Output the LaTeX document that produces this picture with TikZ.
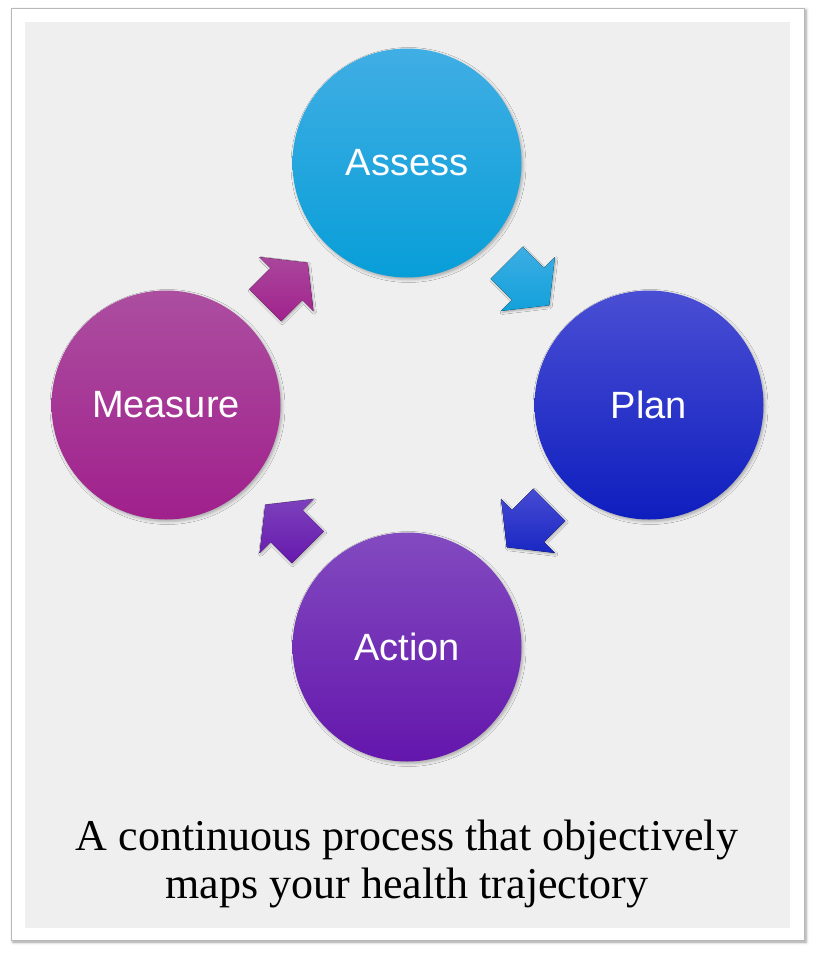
\documentclass[tikz,border=0pt]{standalone}
\usepackage{fontspec}
\setsansfont{Liberation Sans}
\newfontfamily\captionfont{Liberation Serif}
\usetikzlibrary{calc,shadows.blur}

\definecolor{assesstop}{RGB}{64,174,228}
\definecolor{assessbot}{RGB}{8,158,216}
\definecolor{plantop}{RGB}{74,78,212}
\definecolor{planbot}{RGB}{14,30,190}
\definecolor{actiontop}{RGB}{130,74,192}
\definecolor{actionbot}{RGB}{100,22,172}
\definecolor{measuretop}{RGB}{172,78,160}
\definecolor{measurebot}{RGB}{160,32,140}
\definecolor{panel}{RGB}{239,239,239}

\tikzset{
  stage/.style={circle, minimum size=229pt, inner sep=0pt, text=white,
    font=\sffamily\fontsize{38}{44}\selectfont,
    blur shadow={shadow xshift=1.5pt, shadow yshift=-2pt, shadow blur radius=3pt, shadow opacity=30}},
  arrowshadow/.style={blur shadow={shadow xshift=1pt, shadow yshift=-1.5pt, shadow blur radius=2pt, shadow opacity=30}},
}

% block arrow between two stages: position, angle, top colour, bottom colour
\newcommand\cyclearrow[4]{%
  \begin{scope}[shift={(#1)}]
    \fill[#4, rotate=#2, arrowshadow]
      (-30,-22.5) -- (0,-22.5) -- (0,-38) -- (30,0) -- (0,38) -- (0,22.5) -- (-30,22.5) -- cycle;
    \begin{scope}
      \clip[rotate=#2]
        (-30,-22.5) -- (0,-22.5) -- (0,-38) -- (30,0) -- (0,38) -- (0,22.5) -- (-30,22.5) -- cycle;
      \fill[top color=#3, bottom color=#4] (-42,-42) rectangle (42,42);
    \end{scope}
  \end{scope}}

\begin{document}
\begin{tikzpicture}[x=1pt, y=-1pt]

\useasboundingbox (0,0) rectangle (816,956);

% frame
\fill[white, draw=black!28, line width=1pt,
  blur shadow={shadow xshift=2pt, shadow yshift=-2pt, shadow blur radius=3pt, shadow opacity=40}]
  (11,8) rectangle (804,940);
\fill[panel] (25,22) rectangle (790,928);

% the four stages
\node[stage, top color=assesstop, bottom color=assessbot] (assess) at (407,163) {Assess};
\node[stage, top color=plantop, bottom color=planbot] (plan) at (649,405) {Plan};
\node[stage, top color=actiontop, bottom color=actionbot] (action) at (407,647) {Action};
\node[stage, top color=measuretop, bottom color=measurebot] (measure) at (166,405) {Measure};

% arrows
\cyclearrow{$(assess)!0.5!(plan)$}{-45}{assesstop}{assessbot}
\cyclearrow{$(plan)!0.5!(action)$}{-135}{plantop}{planbot}
\cyclearrow{$(action)!0.5!(measure)$}{135}{actiontop}{actionbot}
\cyclearrow{$(measure)!0.5!(assess)$}{45}{measuretop}{measurebot}

\node[font=\captionfont\fontsize{44}{48}\selectfont, align=center] (caption) at (407,864)
  {A continuous process that objectively\\maps your health trajectory};

\end{tikzpicture}
\end{document}
